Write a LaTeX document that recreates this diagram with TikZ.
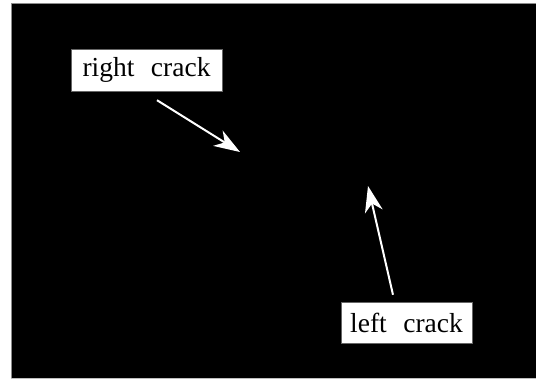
\documentclass[tikz,border=0pt]{standalone}
\usepackage{fontspec}
\setmainfont{Liberation Serif}
\usetikzlibrary{arrows.meta}
\begin{document}
\begin{tikzpicture}[x=1pt,y=-1pt,line width=0.5pt,
  label/.style={fill=white,draw=black!60,line width=0.4pt,inner sep=0pt,font=\fontsize{27.5}{29}\selectfont},
  crackarrow/.style={draw=white,line width=2pt,-{Stealth[length=26pt,width=18pt,inset=8pt]}}]
  \useasboundingbox (0,0) rectangle (536,381);
  \fill[black] (11,3) rectangle (536,378);
  \draw[black!45,line width=0.8pt] (11,378) -- (11,3) -- (536,3);
  \draw[black!25,line width=0.8pt] (11,378.4) -- (536,378.4);
  \node[label,minimum width=151pt,minimum height=42pt] (rc) at (146.5,70) {right\hspace{0.6em}crack};
  \node[label,minimum width=131pt,minimum height=41pt] (lc) at (406.5,322.5) {left\hspace{0.6em}crack};
  \coordinate (rtip) at (240,152);
  \coordinate (ltip) at (368,186);
  \draw[crackarrow] ([xshift=10.5pt,yshift=-9pt]rc.south) -- (rtip);
  \draw[crackarrow] ([xshift=-13.5pt,yshift=7pt]lc.north) -- (ltip);
\end{tikzpicture}
\end{document}
